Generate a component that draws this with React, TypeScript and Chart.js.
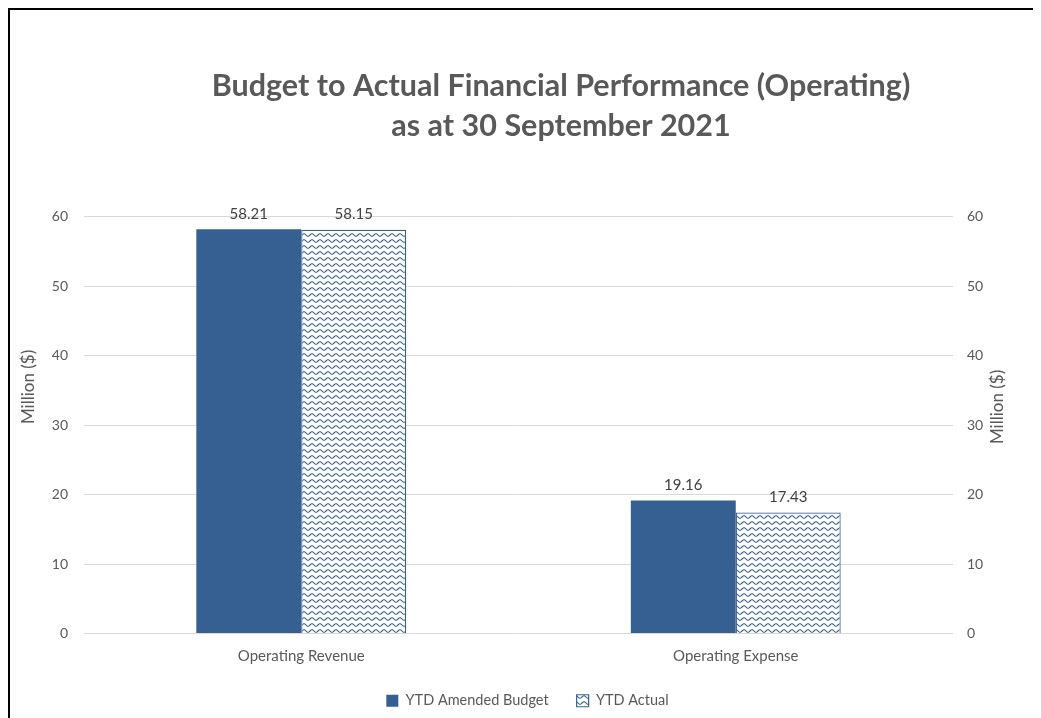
import React, { useEffect, useRef } from "react";
import { Chart, registerables } from "chart.js";

Chart.register(...registerables);

const categories = ["Operating Revenue", "Operating Expense"];
const budgetValues = [58.21, 19.16];
const actualValues = [58.15, 17.43];
const seriesNames = ["YTD Amended Budget", "YTD Actual"];
const titleLines = ["Budget to Actual Financial Performance (Operating)", "as at 30 September 2021"];
const axisTitle = "Million ($)";

const FONT = "Lato, 'Open Sans', sans-serif";
const BLUE = "#376092";
const GREY = "#595959";

function makePattern(): CanvasPattern | string {
  const c = document.createElement("canvas");
  c.width = 8;
  c.height = 6;
  const ctx = c.getContext("2d");
  if (!ctx) return BLUE;
  ctx.fillStyle = "#ffffff";
  ctx.fillRect(0, 0, 8, 6);
  ctx.strokeStyle = BLUE;
  ctx.lineWidth = 1.1;
  ctx.beginPath();
  for (let x = 0; x <= 8; x += 0.5) {
    const y = 3 + 1.3 * Math.sin((x / 8) * Math.PI * 2);
    if (x === 0) ctx.moveTo(x, y);
    else ctx.lineTo(x, y);
  }
  ctx.stroke();
  const p = ctx.createPattern(c, "repeat");
  return p || BLUE;
}

const valueLabels = {
  id: "valueLabels",
  afterDatasetsDraw(chart: any) {
    const ctx = chart.ctx;
    ctx.save();
    ctx.font = `15px ${FONT}`;
    ctx.fillStyle = "#404040";
    ctx.textAlign = "center";
    ctx.textBaseline = "bottom";
    chart.data.datasets.forEach((ds: any, i: number) => {
      const meta = chart.getDatasetMeta(i);
      meta.data.forEach((el: any, j: number) => {
        ctx.fillText(Number(ds.data[j]).toFixed(2), el.x, el.y - 8);
      });
    });
    ctx.restore();
  },
};

const axisTitles = {
  id: "axisTitles",
  afterDraw(chart: any) {
    const { ctx, chartArea } = chart;
    ctx.save();
    ctx.font = `17px ${FONT}`;
    ctx.fillStyle = GREY;
    ctx.textAlign = "center";
    ctx.textBaseline = "middle";
    ctx.translate(chartArea.left - 55, chartArea.top + 170);
    ctx.rotate(-Math.PI / 2);
    ctx.fillText(axisTitle, 0, 0);
    ctx.restore();
    ctx.save();
    ctx.font = `17px ${FONT}`;
    ctx.fillStyle = GREY;
    ctx.textAlign = "center";
    ctx.textBaseline = "middle";
    ctx.translate(chartArea.right + 45, chartArea.top + 190);
    ctx.rotate(-Math.PI / 2);
    ctx.fillText(axisTitle, 0, 0);
    ctx.restore();
  },
};

const legendShift = {
  id: "legendShift",
  afterLayout(chart: any) {
    const l = chart.legend;
    if (l) {
      l.left += 9;
      l.right += 9;
    }
  },
};

export default function App() {
  const ref = useRef<HTMLCanvasElement>(null);
  useEffect(() => {
    document.body.style.overflow = "hidden";
    const canvas = ref.current;
    if (!canvas) return;
    const pattern = makePattern();
    const chart = new Chart(canvas, {
      type: "bar",
      data: {
        labels: categories,
        datasets: [
          {
            label: seriesNames[0],
            data: budgetValues,
            backgroundColor: BLUE,
            borderColor: BLUE,
            borderWidth: 0,
            categoryPercentage: 0.483,
            barPercentage: 1,
          },
          {
            label: seriesNames[1],
            data: actualValues,
            backgroundColor: pattern as any,
            borderColor: BLUE,
            borderWidth: 1.2,
            categoryPercentage: 0.483,
            barPercentage: 1,
          },
        ],
      },
      options: {
        animation: false,
        responsive: false,
        maintainAspectRatio: false,
        layout: { padding: { left: 0, right: 0, top: 0, bottom: 12 } },
        plugins: {
          title: {
            display: true,
            text: titleLines,
            color: GREY,
            font: { family: FONT, size: 30.5, weight: "bold", lineHeight: 1.31 },
            padding: { top: 56, bottom: 71 },
          },
          legend: {
            position: "bottom",
            fullSize: false,
            labels: {
              color: GREY,
              font: { family: FONT, size: 14.5 },
              boxWidth: 12,
              boxHeight: 12,
              padding: 28,
            },
          },
          tooltip: { enabled: false },
        },
        scales: {
          x: {
            grid: { display: false, drawTicks: false },
            border: { display: false },
            ticks: { color: GREY, font: { family: FONT, size: 15 }, padding: 14 },
            afterFit: (s: any) => {
              s.height = 32;
            },
          },
          y: {
            position: "left",
            min: 0,
            max: 60,
            ticks: { stepSize: 10, color: GREY, font: { family: FONT, size: 14 }, padding: 16 },
            grid: { color: "#d9d9d9", drawTicks: false },
            border: { display: false },
            afterFit: (s: any) => {
              s.width = 74;
            },
          },
          y2: {
            position: "right",
            min: 0,
            max: 60,
            ticks: { stepSize: 10, color: GREY, font: { family: FONT, size: 14 }, padding: 14 },
            grid: { display: false, drawTicks: false },
            border: { display: false },
            afterFit: (s: any) => {
              s.width = 159;
            },
          },
        },
      },
      plugins: [valueLabels, axisTitles, legendShift],
    });
    return () => chart.destroy();
  }, []);
  return (
    <div style={{ border: "2px solid #000", width: 1102, height: 720, boxSizing: "content-box" }}>
      <canvas ref={ref} width={1102} height={720} style={{ display: "block" }} />
    </div>
  );
}
